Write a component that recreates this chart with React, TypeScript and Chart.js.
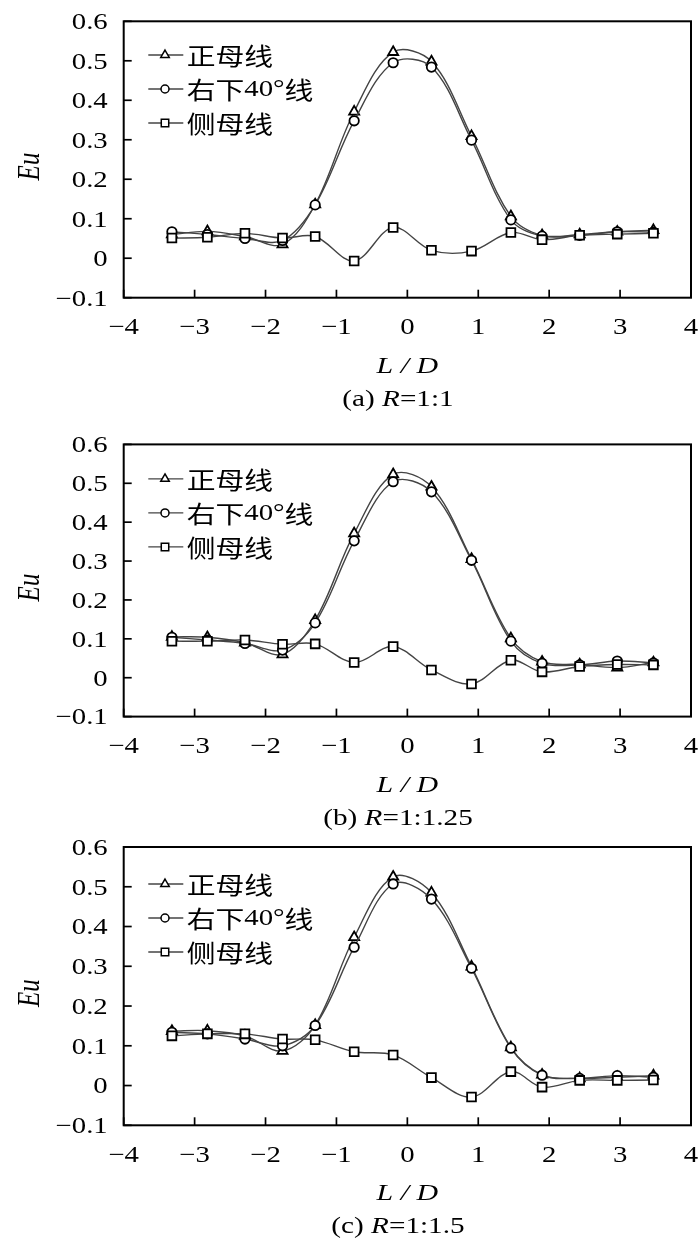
import React, { useEffect, useRef } from 'react';
import { Chart, registerables } from 'chart.js';

Chart.register(...registerables);

// ---------------- data ----------------
const LD_POSITIONS = [-3.32, -2.82, -2.29, -1.76, -1.3, -0.75, -0.2, 0.34, 0.905, 1.46, 1.9, 2.43, 2.96, 3.47];

const SERIES_NAMES = ['正母线', '右下40°线', '侧母线'];

// (a) R = 1:1
const A_ZHENG = [0.06, 0.068, 0.055, 0.035, 0.136, 0.371, 0.522, 0.498, 0.309, 0.106, 0.058, 0.06, 0.067, 0.071];
const A_YOUXIA = [0.067, 0.06, 0.05, 0.045, 0.135, 0.348, 0.495, 0.484, 0.299, 0.097, 0.056, 0.058, 0.067, 0.066];
const A_CE = [0.051, 0.053, 0.063, 0.051, 0.055, -0.007, 0.078, 0.02, 0.018, 0.065, 0.047, 0.058, 0.061, 0.063];

// (b) R = 1:1.25
const B_ZHENG = [0.105, 0.104, 0.09, 0.06, 0.148, 0.371, 0.523, 0.491, 0.305, 0.101, 0.041, 0.034, 0.026, 0.039];
const B_YOUXIA = [0.104, 0.097, 0.088, 0.071, 0.141, 0.352, 0.504, 0.478, 0.302, 0.094, 0.037, 0.033, 0.043, 0.038];
const B_CE = [0.094, 0.094, 0.097, 0.086, 0.087, 0.039, 0.08, 0.02, -0.016, 0.045, 0.015, 0.029, 0.034, 0.033];

// (c) R = 1:1.5
const C_ZHENG = [0.137, 0.138, 0.125, 0.087, 0.152, 0.373, 0.525, 0.485, 0.299, 0.096, 0.027, 0.018, 0.021, 0.025];
const C_YOUXIA = [0.134, 0.13, 0.117, 0.1, 0.151, 0.348, 0.507, 0.469, 0.295, 0.094, 0.026, 0.018, 0.025, 0.021];
const C_CE = [0.125, 0.13, 0.13, 0.117, 0.115, 0.085, 0.077, 0.02, -0.029, 0.035, -0.004, 0.013, 0.013, 0.014];

const X_TICK_LABELS = ['−4', '−3', '−2', '−1', '0', '1', '2', '3', '4'];
const Y_TICK_LABELS = ['−0.1', '0', '0.1', '0.2', '0.3', '0.4', '0.5', '0.6'];

const CAPTION_LETTERS = ['(a) ', '(b) ', '(c) '];
const CAPTION_RATIOS = ['=1:1', '=1:1.25', '=1:1.5'];

const PANEL_SERIES = [
  [A_ZHENG, A_YOUXIA, A_CE],
  [B_ZHENG, B_YOUXIA, B_CE],
  [C_ZHENG, C_YOUXIA, C_CE],
];

// ---------------- layout / style ----------------
const PANEL_LAYOUT = [
  { top: 0, height: 415, plotTop: 21.3, plotBottom: 297.7, legendTop: 33.7 },
  { top: 415, height: 418, plotTop: 29.4, plotBottom: 301.6, legendTop: 34.5 },
  { top: 833, height: 416, plotTop: 14, plotBottom: 292.3, legendTop: 37 },
];

const W = 700;
const PLOT_LEFT = 123.7;
const RIGHT_PAD = 9;
const LINE_COLOR = '#444444';
const SERIF = '"Liberation Serif", "Times New Roman", serif';
const CJK = '"Noto Sans CJK SC", "Liberation Serif", sans-serif';
const STYLES = ['triangle', 'circle', 'rect'];
const RADII = [5.8, 4.7, 6.2];

type Seg = { t: string; f: string };

function drawSegs(ctx: CanvasRenderingContext2D, segs: Seg[], x: number, y: number, align: string, sx: number) {
  let total = 0;
  const widths = segs.map((s) => {
    ctx.font = s.f;
    const w = ctx.measureText(s.t).width;
    total += w;
    return w;
  });
  ctx.save();
  ctx.translate(x, y);
  ctx.scale(sx, 1);
  let cx = align === 'center' ? -total / 2 : align === 'right' ? -total : 0;
  ctx.textAlign = 'left';
  segs.forEach((s, i) => {
    ctx.font = s.f;
    ctx.fillText(s.t, cx, 0);
    cx += widths[i];
  });
  ctx.restore();
}

function drawMarker(ctx: CanvasRenderingContext2D, style: string, x: number, y: number, r: number) {
  ctx.beginPath();
  if (style === 'circle') {
    ctx.arc(x, y, r, 0, Math.PI * 2);
  } else if (style === 'rect') {
    const s = Math.SQRT1_2 * r;
    ctx.rect(x - s, y - s, 2 * s, 2 * s);
  } else {
    let rad = 0;
    ctx.moveTo(x + Math.sin(rad) * r, y - Math.cos(rad) * r);
    rad += (2 * Math.PI) / 3;
    ctx.lineTo(x + Math.sin(rad) * r, y - Math.cos(rad) * r);
    rad += (2 * Math.PI) / 3;
    ctx.lineTo(x + Math.sin(rad) * r, y - Math.cos(rad) * r);
    ctx.closePath();
  }
  ctx.fillStyle = '#fff';
  ctx.fill();
  ctx.strokeStyle = '#000';
  ctx.lineWidth = 1.5;
  ctx.stroke();
}

function Panel({ index }: { index: number }) {
  const ref = useRef<HTMLCanvasElement | null>(null);
  const lay = PANEL_LAYOUT[index];

  useEffect(() => {
    const canvas = ref.current;
    if (!canvas) return;
    const series = PANEL_SERIES[index];

    const overlay = {
      id: 'overlay' + index,
      afterDraw(chart: any) {
        const { ctx, chartArea: a, scales } = chart;
        const xs = scales.x;
        const ys = scales.y;
        ctx.save();
        // frame
        ctx.strokeStyle = '#000';
        ctx.lineWidth = 2;
        ctx.strokeRect(a.left, a.top, a.right - a.left, a.bottom - a.top);
        // inward ticks
        ctx.lineWidth = 1.7;
        xs.ticks.forEach((t: any) => {
          const px = xs.getPixelForValue(t.value);
          ctx.beginPath();
          ctx.moveTo(px, a.bottom);
          ctx.lineTo(px, a.bottom - 8);
          ctx.stroke();
        });
        ys.ticks.forEach((t: any) => {
          const py = ys.getPixelForValue(t.value);
          ctx.beginPath();
          ctx.moveTo(a.left, py);
          ctx.lineTo(a.left + 8, py);
          ctx.stroke();
        });
        // tick labels
        ctx.fillStyle = '#000';
        ctx.textBaseline = 'alphabetic';
        xs.ticks.forEach((t: any, i: number) => {
          const px = xs.getPixelForValue(t.value);
          drawSegs(ctx, [{ t: X_TICK_LABELS[i], f: `23px ${SERIF}` }], px, a.bottom + 36.6, 'center', 1.25);
        });
        ys.ticks.forEach((t: any, i: number) => {
          const py = ys.getPixelForValue(t.value);
          drawSegs(ctx, [{ t: Y_TICK_LABELS[i], f: `23px ${SERIF}` }], a.left - 16, py + 7.8, 'right', 1.25);
        });
        // y title
        ctx.save();
        ctx.translate(31, (a.top + a.bottom) / 2 + 7);
        ctx.scale(1.25, 1);
        ctx.rotate(-Math.PI / 2);
        ctx.font = `italic 25px ${SERIF}`;
        ctx.textAlign = 'center';
        ctx.textBaseline = 'middle';
        ctx.fillText('Eu', 0, 0);
        ctx.restore();
        // x title
        ctx.textBaseline = 'alphabetic';
        drawSegs(ctx, [{ t: 'L / D', f: `italic 23px ${SERIF}` }], (a.left + a.right) / 2, a.bottom + 75, 'center', 1.3);
        // caption
        drawSegs(
          ctx,
          [
            { t: CAPTION_LETTERS[index], f: `23px ${SERIF}` },
            { t: 'R', f: `italic 23px ${SERIF}` },
            { t: CAPTION_RATIOS[index], f: `23px ${SERIF}` },
          ],
          398,
          a.bottom + 108,
          'center',
          1.27
        );
        // legend
        ctx.textBaseline = 'middle';
        SERIES_NAMES.forEach((name, i) => {
          const y = a.top + lay.legendTop + i * 34;
          ctx.strokeStyle = LINE_COLOR;
          ctx.lineWidth = 1.4;
          ctx.beginPath();
          ctx.moveTo(a.left + 24.6, y);
          ctx.lineTo(a.left + 59.6, y);
          ctx.stroke();
          drawMarker(ctx, STYLES[i], a.left + 41.3, y, RADII[i] * 0.85);
          ctx.fillStyle = '#000';
          const segs: Seg[] = [];
          const m = name.match(/^(.*?)(\d+°)(.*)$/);
          if (m) {
            segs.push({ t: m[1], f: `24px ${CJK}` });
            segs.push({ t: m[2], f: `24px ${SERIF}` });
            segs.push({ t: m[3], f: `24px ${CJK}` });
          } else {
            segs.push({ t: name, f: `24px ${CJK}` });
          }
          drawSegs(ctx, segs, a.left + 63, y + 1, 'left', 1.2);
        });
        ctx.restore();
      },
    };

    const datasets = series.map((vals, i) => ({
      label: SERIES_NAMES[i],
      data: LD_POSITIONS.map((x, j) => ({ x, y: vals[j] })),
      borderColor: LINE_COLOR,
      borderWidth: 1.4,
      tension: 0.35,
      pointStyle: STYLES[i],
      pointRadius: RADII[i],
      pointBackgroundColor: '#fff',
      pointBorderColor: '#000',
      pointBorderWidth: 1.8,
      fill: false,
      order: 2 - i,
    }));

    const chart = new Chart(canvas, {
      type: 'line',
      data: { datasets },
      options: {
        animation: false,
        responsive: false,
        events: [],
        layout: { padding: { top: lay.plotTop, right: RIGHT_PAD, left: 0, bottom: 0 } },
        plugins: { legend: { display: false }, tooltip: { enabled: false }, title: { display: false } },
        scales: {
          x: {
            type: 'linear',
            min: -4,
            max: 4,
            ticks: { stepSize: 1, display: false },
            grid: { display: false, drawTicks: false },
            border: { display: false },
            afterFit: (s: any) => {
              s.height = lay.height - lay.plotBottom;
            },
          },
          y: {
            type: 'linear',
            min: -0.1,
            max: 0.6,
            ticks: { stepSize: 0.1, display: false },
            grid: { display: false, drawTicks: false },
            border: { display: false },
            afterFit: (s: any) => {
              s.width = PLOT_LEFT;
            },
          },
        },
      },
      plugins: [overlay],
    } as any);

    return () => chart.destroy();
  }, [index]);

  return (
    <canvas
      ref={ref}
      width={W}
      height={lay.height}
      style={{ position: 'absolute', left: 0, top: lay.top, width: W, height: lay.height, display: 'block' }}
    />
  );
}

export default function App() {
  useEffect(() => {
    document.body.style.margin = '0';
    document.body.style.background = '#fff';
  }, []);
  return (
    <div style={{ position: 'relative', width: W, height: 1249, background: '#fff', overflow: 'hidden' }}>
      {[0, 1, 2].map((i) => (
        <Panel key={i} index={i} />
      ))}
    </div>
  );
}
